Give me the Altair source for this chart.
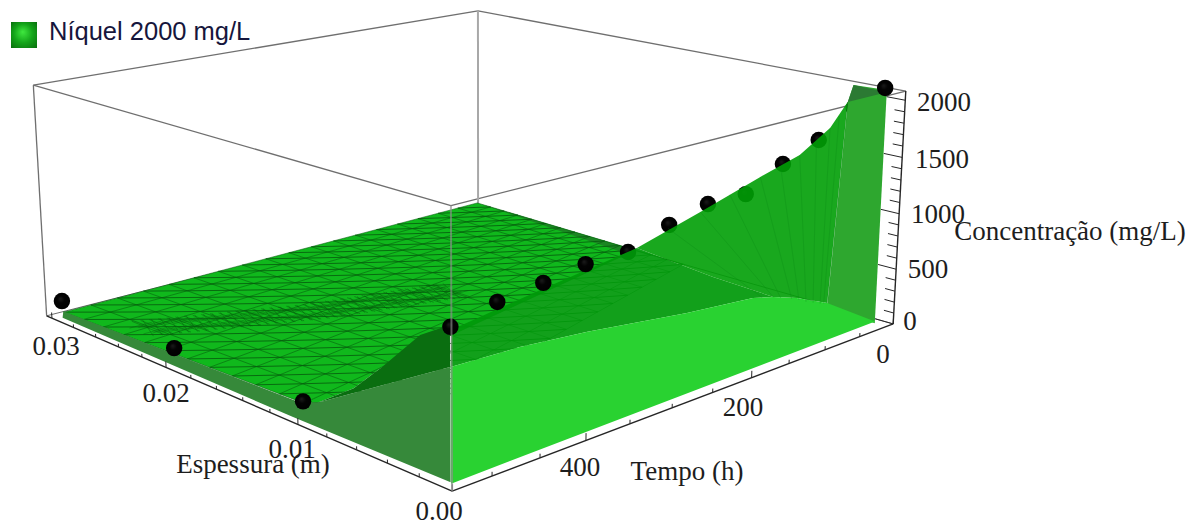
import altair as alt, numpy as np, pandas as pd

# ---- data (espessura m, tempo h, concentracao mg/L) ----
ball_edge_t = [541, 495, 448, 403, 356, 309, 263, 216, 169, 122, 75, 31]
ball_edge_c = [1218, 1296, 1335, 1382, 1379, 1497, 1575, 1569, 1732, 1852, 2046, 2152]
ball_far_e = [0.0308, 0.0209, 0.0111]
ball_far_t = [520, 520, 519]
ball_far_c = [80, 80, 80]

flat_corners = [(0.0292, 536, 80), (0.0298, 13, 80), (0.0166, 19, 80), (0.0109, 521, 80)]
flat_shade = [(0.0298, 13, 80), (0.0166, 19, 80), (0.0166, 34, 80)]
flat_toe = [(0.0109, 521, 80), (0.0093, 530, 184), (0.0068, 530, 419), (0.0049, 530, 675),
            (0.0025, 530, 1023), (0.0141, 311, 80)]
side_face = [(0.0298, 530, 50), (0.0109, 530, 125), (0.0093, 530, 184), (0.0007, 530, 866),
             (0.0007, 530, 0), (0.0111, 530, -18), (0.0299, 530, -16)]
dark_wedge = [(0.0093, 530, 184), (0.0068, 530, 419), (0.0049, 530, 675), (0.0025, 530, 1023),
              (0.0007, 530, 1176), (0.0007, 530, 866)]
front_lower = [(541, 925), (472, 907), (400, 855), (285, 741), (202, 681), (175, 631), (143, 551),
               (100, 414), (28, 85), (534, 60), (541, 58)]
front_band = [(540, 1194), (451, 1289), (346, 1389), (254, 968), (175, 631), (202, 681), (285, 741),
              (400, 855), (472, 907), (541, 925)]
front_ridge = [(346, 1389), (272, 1529), (198, 1677), (147, 1768), (107, 1929), (84, 2110),
               (100, 414), (143, 551), (175, 631), (254, 968)]
fan_top_t = [310, 272, 236, 198, 172, 147, 125, 107, 95, 84]
fan_top_c = [1470, 1529, 1600, 1677, 1720, 1768, 1850, 1929, 2010, 2110]
fan_base_t = [190, 175, 165, 150, 140, 130, 120, 110, 105, 100]
fan_base_c = [660, 631, 600, 560, 530, 490, 460, 430, 420, 414]
back_panel = [(0.0028, 8, 2067), (0.0008, 8, 2079), (0.0008, 8, -10), (0.0038, 8, 20), (0.0031, 8, 1909)]
back_cap = [(0.0028, 8, 2067), (0.0008, 8, 2060), (0.0031, 8, 1909)]
dense_t = [512, 369, 239]
dense_e = [0.0244, 0.0205, 0.0183]

e_ticks = [0.0, 0.002, 0.004, 0.006, 0.008, 0.01, 0.012, 0.014, 0.016, 0.018, 0.02, 0.022, 0.024, 0.026, 0.028, 0.03]
t_ticks = [0, 50, 100, 150, 200, 250, 300, 350, 400, 450, 500]
c_ticks = [0, 100, 200, 300, 400, 500, 600, 700, 800, 900, 1000, 1100, 1200, 1300, 1400, 1500, 1600, 1700, 1800, 1900, 2000]
labels = ["0.03", "0.02", "0.01", "0.00", "400", "200", "0", "2000", "1500", "1000", "500", "0"]
label_x = [56, 166, 292, 439, 580, 743, 883, 944, 942, 938, 928, 910]
label_y = [347, 394, 450, 512, 468, 408, 355, 103, 160, 215, 270, 322]
titles = ["Espessura (m)", "Tempo (h)", "Concentração (mg/L)"]
title_x = [253, 687, 1070]
title_y = [465, 472, 232]
legend_text = "Níquel 2000 mg/L"

# ---- camera: the box corners of the 3D frame fix a perspective projection ----
E1, T1, C1 = 0.0305, 540, 2080
frame = [((E1, T1, 0), (47, 318)), ((0, T1, 0), (452, 490)), ((0, 0, 0), (893, 326)), ((E1, 0, 0), (478, 203)),
         ((E1, T1, C1), (33, 85)), ((0, T1, C1), (451, 204)), ((0, 0, C1), (906, 91)), ((E1, 0, C1), (478, 12))]
A, b = [], []
for (e, t, c), (x, y) in frame:
    v = [e * 30, t / 540, c / 2080, 1]
    A.append(v + [0, 0, 0, 0] + [-x * k for k in v[:3]]); b.append(x)
    A.append([0, 0, 0, 0] + v + [-y * k for k in v[:3]]); b.append(y)
P = np.append(np.linalg.lstsq(np.array(A, float), np.array(b, float), rcond=None)[0], 1).reshape(3, 4)

def pr(e, t, c):
    h = P @ np.array([e * 30, t / 540, c / 2080, 1.0])
    return [float(h[0] / h[2]), float(h[1] / h[2])]

def poly(pts, fill, a=1.0):
    ring = [pr(*p) for p in pts]
    ring.append(ring[0])
    return dict(type="Feature", geometry=dict(type="Polygon", coordinates=[ring]),
                properties=dict(fill=fill, a=a))

def line(pts, col, w, a=1.0):
    return dict(type="Feature", geometry=dict(type="LineString", coordinates=[pr(*p) for p in pts]),
                properties=dict(col=col, w=w, a=a))

def e0(pts):
    return [(0, t, c) for t, c in pts]

PROJ = dict(type="identity", scale=1, translate=[-8, -8])

def polys(feats):
    return alt.Chart(alt.Data(values=feats)).mark_geoshape(strokeWidth=0).encode(
        color=alt.Color("properties.fill:N", scale=None),
        opacity=alt.Opacity("properties.a:Q", scale=None)).project(**PROJ)

def lines(feats):
    return alt.Chart(alt.Data(values=feats)).mark_geoshape(filled=False).encode(
        color=alt.Color("properties.col:N", scale=None),
        strokeWidth=alt.StrokeWidth("properties.w:Q", scale=None),
        opacity=alt.Opacity("properties.a:Q", scale=None)).project(**PROJ)

# frame edges behind the surface
G = "#6f6f6f"
LT, BT, RT, FT = (E1, T1, C1), (E1, 0, C1), (0, 0, C1), (0, T1, C1)
LB, BB, RB, FB = (E1, T1, 0), (E1, 0, 0), (0, 0, 0), (0, T1, 0)
back = [line([LT, BT], G, 1.3), line([BT, RT], G, 1.3), line([LT, FT], G, 1.3), line([FT, RT], G, 1.3),
        line([LT, LB], G, 1.3), line([BT, BB], "#a8a8a8", 2), line([LB, BB], G, 1), line([BB, RB], G, 1)]

# mesh of the flat surface (runs past the fold; the faces drawn later cover the overrun)
a_, b_, c_, d_ = [np.array(p, float) for p in flat_corners]
def bil(r, s):
    return tuple((1 - r) * (1 - s) * a_ + r * (1 - s) * b_ + r * s * c_ + (1 - r) * s * d_)
NR, NS, EXTRA = 18, 11, 3
mesh = []
M = "#075a0e"
for i in range(NR + 1):
    mesh.append(line([bil(i / NR, 0), bil(i / NR, (NS + EXTRA) / NS)], M, 0.9, 0.6))
for j in range(NS + EXTRA + 1):
    mesh.append(line([bil(0, j / NS), bil(1, j / NS)], M, 0.9, 0.6))
for k in range(1, NR + NS + EXTRA):
    pts = []
    for i in range(NR + 1):
        j = k - (NR - i)
        if 0 <= j <= NS + EXTRA:
            pts.append(bil(i / NR, j / NS))
    if len(pts) > 1:
        mesh.append(line(pts, M, 1.0, 0.8))
# refined band of the mesh
for t in range(240, 512, 7):
    ec = float(np.interp(t, dense_t[::-1], dense_e[::-1]))
    mesh.append(line([(ec + 0.0014, t, 80), (ec - 0.0014, t, 80)], M, 0.7, 0.7))
    mesh.append(line([(ec + 0.0012, t - 9, 80), (ec - 0.0012, t + 9, 80)], M, 0.7, 0.6))
    mesh.append(line([(ec + 0.0006, t - 12, 80), (ec + 0.0006, t + 12, 80)], M, 0.7, 0.55))
    mesh.append(line([(ec - 0.0006, t - 12, 80), (ec - 0.0006, t + 12, 80)], M, 0.7, 0.55))

under = polys([poly(flat_corners, "#10b81c"), poly(flat_toe, "#10b81c"), poly(flat_shade, "#1d7f24", 0.9)])
over_flat = polys([poly(side_face, "#36893a"), poly(dark_wedge, "#0a6e10")])

fan = [line(e0([(a1, a2), (b1, b2)]), "#0a8a15", 1, 0.3)
       for a1, a2, b1, b2 in zip(fan_top_t, fan_top_c, fan_base_t, fan_base_c)]

front = polys([poly(e0(front_band), "#00990a", 0.93), poly(e0(front_ridge), "#009e05", 0.9),
               poly(back_panel, "#2ea72f"), poly(back_cap, "#2b7a33"),
               poly(e0(front_lower), "#29d231")])

sphere = alt.RadialGradient(gradient="radial", x1=0.4, y1=0.35, r1=0, x2=0.5, y2=0.5, r2=0.55,
                            stops=[alt.GradientStop(color="#1c1c1c", offset=0),
                                   alt.GradientStop(color="#030303", offset=0.4),
                                   alt.GradientStop(color="#000000", offset=1)])
rows = [dict(zip("xy", pr(0, t, c))) for t, c in zip(ball_edge_t, ball_edge_c)]
rows += [dict(zip("xy", pr(e, t, c))) for e, t, c in zip(ball_far_e, ball_far_t, ball_far_c)]
balls = pd.DataFrame(rows)
def ball_layer(df):
    return alt.Chart(df).mark_circle(size=270, opacity=1, fill=sphere).encode(
        longitude="x:Q", latitude="y:Q").project(**PROJ)
behind = ball_layer(balls.iloc[4:11])
infront = ball_layer(balls.iloc[list(range(4)) + [11, 12, 13, 14]])

# axes
K = "#262626"
axes = [line([LB, FB], K, 1.4), line([FB, RB], K, 1.4), line([RB, RT], K, 1.4)]
for e in e_ticks:
    axes.append(line([(e, T1, 0), (e, T1, 52 if round(e * 1000) % 10 == 0 else 28)], K, 1))
for t in t_ticks:
    axes.append(line([(0, t, 0), (0, t, 58 if t % 200 == 0 else 32)], K, 1))
for c in c_ticks:
    axes.append(line([(0, 0, c), (0.0011 if c % 500 == 0 else 0.0006, 0, c)], K, 1))
axes.append(line([FT, FB], "#8f8f8f", 2, 0.65))

def text_layer(df, color="#1d1d1d"):
    return alt.Chart(df).mark_text(font="Liberation Serif", fontSize=27, color=color,
                                   align="center", baseline="middle").encode(
        longitude="x:Q", latitude="y:Q", text="s:N").project(**PROJ)
tick_text = text_layer(pd.DataFrame(dict(x=label_x, y=label_y, s=labels)))
title_text = text_layer(pd.DataFrame(dict(x=title_x, y=title_y, s=titles)))

swatch_fill = alt.RadialGradient(gradient="radial", x1=0.45, y1=0.38, r1=0, x2=0.5, y2=0.5, r2=0.72,
                                 stops=[alt.GradientStop(color="#3fe83f", offset=0),
                                        alt.GradientStop(color="#14a51a", offset=0.5),
                                        alt.GradientStop(color="#086c0c", offset=1)])
leg = pd.DataFrame(dict(x=[24], y=[35]))
swatch = alt.Chart(leg).mark_square(size=676, opacity=1, fill=swatch_fill).encode(
    longitude="x:Q", latitude="y:Q").project(**PROJ)
leg_t = pd.DataFrame(dict(x=[49], y=[32], s=[legend_text]))
halo = alt.Chart(leg_t).mark_text(font="Liberation Sans", fontSize=25.5, align="left", baseline="middle",
                                  color="white", stroke="white", strokeWidth=9).encode(
    longitude="x:Q", latitude="y:Q", text="s:N").project(**PROJ)
leg_label = alt.Chart(leg_t).mark_text(font="Liberation Sans", fontSize=25.5, align="left", baseline="middle",
                                       color="#16163c").encode(
    longitude="x:Q", latitude="y:Q", text="s:N").project(**PROJ)

chart = alt.layer(lines(back), under, lines(mesh), over_flat, behind, front, lines(fan), infront,
                  lines(axes), tick_text, title_text, halo, swatch, leg_label).properties(
    width=1182, height=517, padding=0,
    autosize=alt.AutoSizeParams(type="none")
).configure_view(stroke=None)

chart.save("out.html", embed_options={"renderer": "svg", "actions": False})
